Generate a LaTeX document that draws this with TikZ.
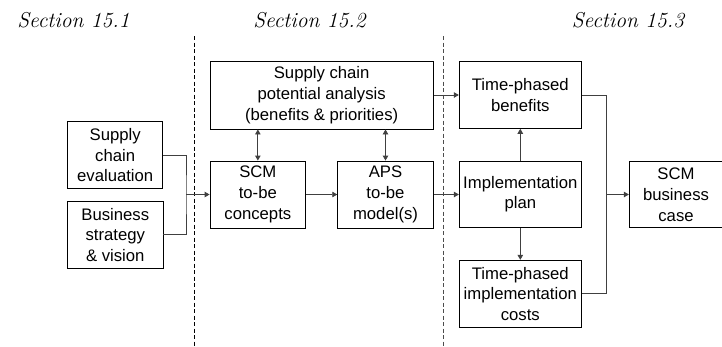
\documentclass[tikz,border=0pt]{standalone}
\usepackage{fontspec}
\setmainfont{Liberation Sans}
\newfontfamily\lmit{Latin Modern Roman}
\usetikzlibrary{arrows.meta}
\begin{document}
\begin{tikzpicture}[x=1pt,y=-1pt,
  box/.style={draw=black,line width=0.9pt,inner sep=0pt,align=center,
    font=\fontsize{16.7}{20.7}\selectfont},
  conn/.style={draw=black!75,line width=0.9pt},
  arr/.style={conn,-{Triangle[length=5pt,width=5.5pt]}},
  darr/.style={conn,{Triangle[length=5pt,width=5.5pt]}-{Triangle[length=5pt,width=5.5pt]}},
  sep/.style={line width=0.8pt,dash pattern=on 4pt off 2.5pt},
  sect/.style={font=\lmit\itshape\fontsize{21.5}{24}\selectfont,inner sep=0pt}]
\useasboundingbox (0,0) rectangle (722,346);
\clip (0,0) rectangle (722,346);
% section labels
\node[sect] (s1) at (73.5,20) {Section 15.1};
\node[sect] (s2) at (309.5,20) {Section 15.2};
\node[sect] (s3) at (628,20) {Section 15.3};
% separators
\draw[sep,black] (194.3,36) coordinate (d1a) -- (194.3,346) coordinate (d1b);
\draw[sep,black!70] (443.7,36) coordinate (d2a) -- (443.7,346) coordinate (d2b);
% boxes
\node[box,minimum width=95pt,minimum height=67pt] (eval) at (115.2,155.2) {Supply\\chain\\evaluation};
\node[box,minimum width=95.5pt,minimum height=67pt] (biz) at (115.25,234.8) {Business\\strategy\\\& vision};
\node[box,minimum width=223.3pt,minimum height=67.3pt] (pot) at (321.65,95.35) {Supply chain\\potential analysis\\(benefits \& priorities)};
\node[box,minimum width=95.7pt,minimum height=67pt] (scm) at (257.85,194.5) {SCM\\to-be\\concepts};
\node[box,minimum width=95.6pt,minimum height=67pt] (aps) at (385.5,194.5) {APS\\to-be\\model(s)};
\node[box,minimum width=122pt,minimum height=66.6pt] (ben) at (520.3,95) {Time-phased\\benefits};
\node[box,minimum width=122pt,minimum height=66.3pt] (impl) at (520.3,194.2) {Implementation\\plan};
\node[box,minimum width=122pt,minimum height=67pt] (cost) at (520.3,293.8) {Time-phased\\implementation\\costs};
\node[box,minimum width=93.4pt,minimum height=66pt] (case) at (676,194.7) {SCM\\business\\case};
% junctions
\coordinate (j1) at (186,194.5);
\coordinate (j2) at (606,194.5);
% connectors
\draw[conn] (eval.east) -| (j1) |- (biz.east);
\draw[arr] (j1) -- (scm.west);
\draw[arr] (scm.east) -- (aps.west |- scm.east);
\draw[arr] (aps.east) -- (impl.west |- aps.east);
\draw[darr] (pot.south -| scm.north) -- (scm.north);
\draw[darr] (pot.south -| aps.north) -- (aps.north);
\draw[arr] (pot.east |- ben.west) -- (ben.west);
\draw[arr] (impl.north) -- (ben.south);
\draw[arr] (impl.south) -- (cost.north);
\draw[conn] (ben.east) -| (j2) |- (cost.east);
\draw[arr] (j2) -- (case.west |- j2);
\end{tikzpicture}
\end{document}
